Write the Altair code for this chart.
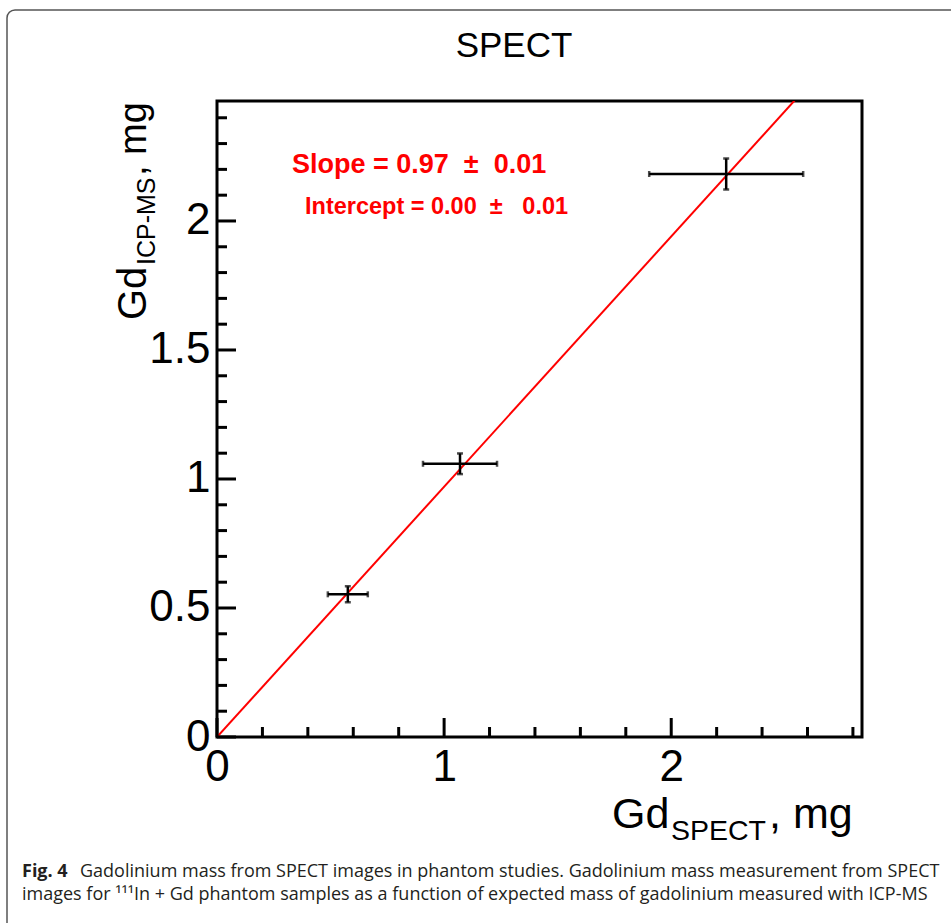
import altair as alt
import pandas as pd

# ---- data ----
gd_spect = [0.576, 1.070, 2.242]
gd_spect_err = [0.088, 0.163, 0.339]
gd_icp = [0.553, 1.059, 2.182]
gd_icp_err = [0.031, 0.040, 0.060]

slope = 0.97
intercept = 0.00
fit_range = [0.0, 2.84]

x_major = [0, 1, 2]
x_minor = [0.2, 0.4, 0.6, 0.8, 1.2, 1.4, 1.6, 1.8, 2.2, 2.4, 2.6, 2.8]
y_major = [0, 0.5, 1, 1.5, 2]
y_minor = [0.1, 0.2, 0.3, 0.4, 0.6, 0.7, 0.8, 0.9, 1.1, 1.2, 1.3, 1.4,
           1.6, 1.7, 1.8, 1.9, 2.1, 2.2, 2.3, 2.4]

NB = "\u00a0"
title_text = "SPECT"
slope_text = "Slope = 0.97" + NB * 2 + "\u00b1" + NB * 2 + "0.01"
intercept_text = "Intercept = 0.00" + NB * 2 + "\u00b1" + NB * 3 + "0.01"
xtitle_parts = ["Gd", "SPECT", ", mg"]
ytitle_parts = ["Gd", "ICP-MS", ", mg"]
caption_bold = "Fig. 4"
caption_line1 = "Gadolinium mass from SPECT images in phantom studies. Gadolinium mass measurement from SPECT"
caption_line2 = "images for \u00b9\u00b9\u00b9In + Gd phantom samples as a function of expected mass of gadolinium measured with ICP-MS"

# ---- layout ----
W, H = 645, 636
PL, PT = 217, 101
FONT = "Liberation Sans"

xs = alt.Scale(domain=[0, 2.84], nice=False, zero=False)
ys = alt.Scale(domain=[0, 2.465], nice=False, zero=False)

pts = pd.DataFrame({"x": gd_spect, "xe": gd_spect_err, "y": gd_icp, "ye": gd_icp_err})
pts["xlo"] = pts.x - pts.xe
pts["xhi"] = pts.x + pts.xe
pts["ylo"] = pts.y - pts.ye
pts["yhi"] = pts.y + pts.ye

fit = pd.DataFrame({"x": fit_range})
fit["y"] = intercept + slope * fit["x"]

x_axis = alt.Axis(values=x_major, format="~g", labelFontSize=44, labelFont=FONT,
                  labelColor="black", domain=False, ticks=False, grid=False,
                  title=None, labelPadding=8, labelFlush=False, labelOverlap=False)
y_axis = alt.Axis(values=y_major, format="~g", labelFontSize=44, labelFont=FONT,
                  labelColor="black", domain=False, ticks=False, grid=False,
                  title=None, labelPadding=7, labelFlush=False, labelOverlap=False)


def X(f):
    return alt.X(f, type="quantitative", scale=xs, axis=x_axis)


def Y(f):
    return alt.Y(f, type="quantitative", scale=ys, axis=y_axis)


fit_line = alt.Chart(fit).mark_line(color="#ff0000", strokeWidth=2, clip=True).encode(
    x=X("x"), y=Y("y"))

xerr = alt.Chart(pts).mark_rule(color="black", strokeWidth=2.5).encode(
    x=X("xlo"), x2="xhi", y=Y("y"))
yerr = alt.Chart(pts).mark_rule(color="black", strokeWidth=2.5).encode(
    x=X("x"), y=Y("ylo"), y2="yhi")
xcap_lo = alt.Chart(pts).mark_tick(color="black", orient="vertical", size=6, thickness=2.5).encode(
    x=X("xlo"), y=Y("y"))
xcap_hi = alt.Chart(pts).mark_tick(color="black", orient="vertical", size=6, thickness=2.5).encode(
    x=X("xhi"), y=Y("y"))
ycap_lo = alt.Chart(pts).mark_tick(color="black", orient="horizontal", size=6, thickness=2.5).encode(
    x=X("x"), y=Y("ylo"))
ycap_hi = alt.Chart(pts).mark_tick(color="black", orient="horizontal", size=6, thickness=2.5).encode(
    x=X("x"), y=Y("yhi"))

xt_maj = alt.Chart(pd.DataFrame({"v": x_major})).mark_rule(color="black", strokeWidth=3).encode(
    x=X("v"), y=alt.value(H), y2=alt.value(H - 19))
xt_min = alt.Chart(pd.DataFrame({"v": x_minor})).mark_rule(color="black", strokeWidth=3).encode(
    x=X("v"), y=alt.value(H), y2=alt.value(H - 10))
yt_maj = alt.Chart(pd.DataFrame({"v": y_major})).mark_rule(color="black", strokeWidth=3).encode(
    y=Y("v"), x=alt.value(0), x2=alt.value(19))
yt_min = alt.Chart(pd.DataFrame({"v": y_minor})).mark_rule(color="black", strokeWidth=3).encode(
    y=Y("v"), x=alt.value(0), x2=alt.value(10))


def txt(s, ax, ay, size, align="left", bold=False, color="black", angle=0, font=FONT):
    kw = dict(align=align, baseline="alphabetic", fontSize=size, font=font,
              color=color, fontWeight="bold" if bold else "normal")
    if angle:
        kw["angle"] = angle
    return alt.Chart(pd.DataFrame({"t": [s]})).mark_text(**kw).encode(
        text="t:N", x=alt.value(ax - PL), y=alt.value(ay - PT))


texts = [
    txt(title_text, 514, 57, 35, align="center"),
    txt(slope_text, 292, 173, 27, bold=True, color="#ff0000"),
    txt(intercept_text, 305, 214, 23.5, bold=True, color="#ff0000"),
    # x-axis title with subscript
    txt(xtitle_parts[0], 612, 828, 43),
    txt(xtitle_parts[1], 671, 840, 28.5),
    txt(xtitle_parts[2], 769, 828, 43),
    # y-axis title with subscript (rotated)
    txt(ytitle_parts[0], 146, 320, 40, angle=270),
    txt(ytitle_parts[1], 155, 265, 25, angle=270),
    txt(ytitle_parts[2], 146, 176, 38, angle=270),
    # caption
    txt(caption_bold, 22, 877, 18, bold=True, color="#231f20", font="Open Sans"),
    txt(caption_line1, 80, 877, 18, color="#231f20", font="Open Sans"),
    txt(caption_line2, 22, 900, 18, color="#231f20", font="Open Sans"),
]

border = alt.Chart(pd.DataFrame({"a": [0]})).mark_rect(
    fill=None, stroke="#555555", strokeWidth=1.5, cornerRadius=8).encode(
    x=alt.value(7 - PL), x2=alt.value(985 - PL), y=alt.value(10 - PT), y2=alt.value(960 - PT))

chart = alt.layer(
    fit_line, border, xt_maj, xt_min, yt_maj, yt_min,
    xerr, yerr, xcap_lo, xcap_hi, ycap_lo, ycap_hi, *texts
).properties(
    width=W, height=H,
    autosize=alt.AutoSizeParams(type="none"),
    padding={"left": PL, "top": PT, "right": 951 - PL - W, "bottom": 923 - PT - H},
    background="white",
).configure_view(stroke="black", strokeWidth=3)

chart.save("out.html", embed_options={"renderer": "svg", "actions": False})
